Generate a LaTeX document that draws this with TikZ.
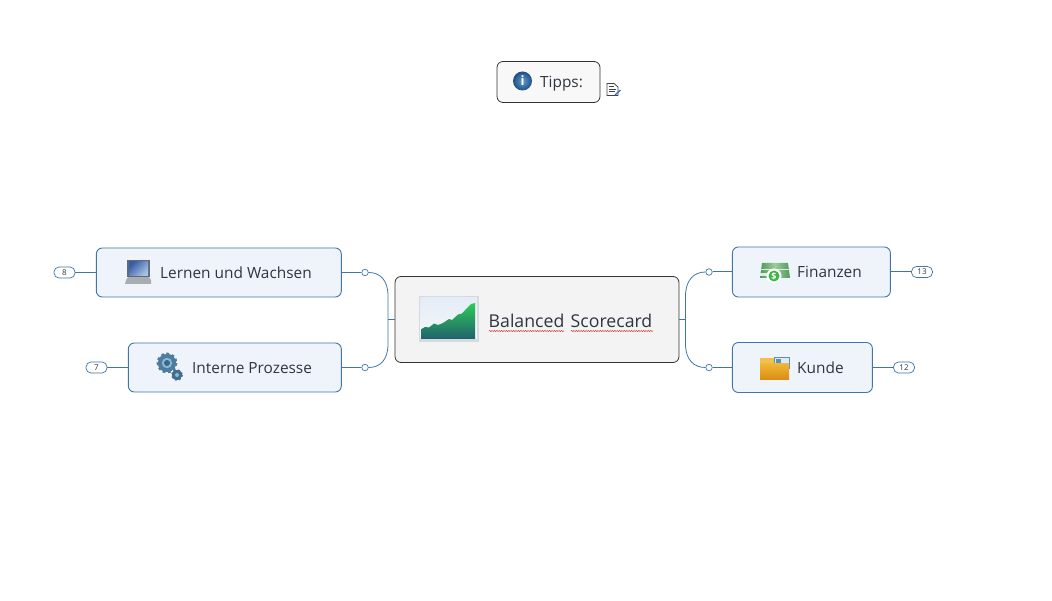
\documentclass[tikz,border=0pt]{standalone}
\usepackage{fontspec}
\setmainfont{Open Sans}
\usetikzlibrary{decorations.pathmorphing}
\definecolor{linkblue}{HTML}{3F75A8}
\definecolor{boxfill}{HTML}{EFF4FB}
\definecolor{rootfill}{HTML}{F3F3F3}
\definecolor{rootline}{HTML}{333333}
\definecolor{txt}{HTML}{2F3640}
\definecolor{wave}{HTML}{D23C3C}
\definecolor{chartsky}{HTML}{E4ECF6}
\definecolor{chartskyb}{HTML}{F6F8FB}
\definecolor{chartframe}{HTML}{D5DADF}
\definecolor{charttop}{HTML}{2CCB55}
\definecolor{chartmid}{HTML}{10B96A}
\definecolor{chartbot}{HTML}{21606E}
\definecolor{infoin}{HTML}{5F9BD0}
\definecolor{infoout}{HTML}{1F4F86}
\definecolor{gearbig}{HTML}{4F7C9E}
\definecolor{gearring}{HTML}{86BBDC}
\definecolor{gearhub}{HTML}{3D6685}
\definecolor{gearsmall}{HTML}{456C88}
\definecolor{lapframe}{HTML}{5F6B78}
\definecolor{lapbase}{HTML}{A8ADB2}
\definecolor{lapscreena}{HTML}{3A5CA8}
\definecolor{lapscreenb}{HTML}{A8C2E4}
\definecolor{moneya}{HTML}{4F9A5C}
\definecolor{moneyb}{HTML}{9CCB9E}
\definecolor{moneyc}{HTML}{DDEEDC}
\definecolor{dollar}{HTML}{3FB54A}
\definecolor{foldera}{HTML}{F1B534}
\definecolor{folderb}{HTML}{D98C12}
\definecolor{foldertab}{HTML}{F0C050}
\definecolor{cardblue}{HTML}{5B8FC0}
\definecolor{cardpale}{HTML}{DCEAF6}
\definecolor{notegray}{HTML}{444444}
\definecolor{notepen}{HTML}{3B6FC0}
\tikzset{
  x=1pt,y=-1pt,
  topicbox/.style={draw=linkblue,fill=boxfill,line width=0.9pt,rounded corners=6pt,inner sep=0pt},
  rootbox/.style={draw=rootline,fill=rootfill,line width=0.8pt,rounded corners=6pt,inner sep=0pt},
  toptext/.style={text=txt,font=\fontsize{15.4}{18}\selectfont,inner sep=0pt,anchor=west},
  roottext/.style={text=txt,font=\fontsize{17.7}{21}\selectfont,inner sep=0pt,anchor=west},
  countpill/.style={draw=linkblue,fill=white,line width=0.7pt,rounded corners=5pt,minimum width=21pt,minimum height=11pt,inner sep=0pt,text=txt,font=\fontsize{8}{9}\selectfont},
  knob/.style={circle,draw=linkblue,fill=white,line width=0.7pt,minimum size=6.5pt,inner sep=0pt},
  link/.style={draw=linkblue,line width=1pt},
  thinlink/.style={draw=linkblue,line width=0.8pt},
  spell/.style={draw=wave,line width=0.5pt,decorate,decoration={zigzag,segment length=2.4pt,amplitude=0.6pt}}
}
\begin{document}
\begin{tikzpicture}
\useasboundingbox (0,0) rectangle (1052,601);
% boxes
\node[rootbox,minimum width=284pt,minimum height=86pt] (root) at (537,319.5) {};
\node[rootbox,fill=rootfill!60!white,minimum width=103pt,minimum height=41pt] (tips) at (548.5,82) {};
\node[topicbox,minimum width=245pt,minimum height=49pt] (lernen) at (218.8,272.5) {};
\node[topicbox,minimum width=213pt,minimum height=49pt] (intern) at (234.8,367.5) {};
\node[topicbox,minimum width=158pt,minimum height=50pt] (finanz) at (811.4,272) {};
\node[topicbox,minimum width=140pt,minimum height=50pt] (kunde) at (802.4,367.5) {};
% knobs and counters
\node[knob] (kl) at (365,272.5) {};
\node[knob] (ki) at (365,367.5) {};
\node[knob] (kf) at (709,272) {};
\node[knob] (kk) at (709,367.5) {};
\node[countpill] (c8) at (64.5,272.5) {8};
\node[countpill] (c7) at (96.5,367.5) {7};
\node[countpill] (c13) at (922,272) {13};
\node[countpill] (c12) at (904,367.5) {12};
\coordinate (jl) at (388,319.5);
\coordinate (jr) at (685.5,319.5);
% connectors
\draw[thinlink] (root.west) -- (jl);
\draw[thinlink] (root.east) -- (jr);
\draw[thinlink] (kl.east) .. controls (380,272.5) and (388,280) .. (388,296) -- (jl) -- (388,344) .. controls (388,360) and (380,367.5) .. (ki.east);
\draw[thinlink] (kf.west) .. controls (694,272) and (685.5,280) .. (685.5,296) -- (jr) -- (685.5,344) .. controls (685.5,360) and (694,367.5) .. (kk.west);
\draw[link] (lernen.east) -- (kl.west);
\draw[link] (intern.east) -- (ki.west);
\draw[link] (finanz.west) -- (kf.east);
\draw[link] (kunde.west) -- (kk.east);
\draw[link] (lernen.west) -- (c8.east);
\draw[link] (intern.west) -- (c7.east);
\draw[link] (finanz.east) -- (c13.west);
\draw[link] (kunde.east) -- (c12.west);
% texts
\node[toptext] (tl) at (160,272.5) {Lernen und Wachsen};
\node[toptext] (ti) at (192,367.8) {Interne Prozesse};
\node[toptext] (tf) at (797,272) {Finanzen};
\node[toptext] (tk) at (797,367.5) {Kunde};
\node[toptext] (tt) at (540,83.5) {Tipps:};
\node[roottext] (tr1) at (488.5,320.5) {Balanced};
\node[roottext] (tr2) at (570.5,320.5) {Scorecard};
\draw[spell] (489,331) -- (564,331);
\draw[spell] (571,331) -- (653,331);
% icon: info
\shade[inner color=infoin,outer color=infoout] (522.5,81) circle (9.5);
\node[text=white,font=\bfseries\fontsize{13}{13}\selectfont,inner sep=0pt] (iinfo) at (522.5,81) {i};
% icon: note
\draw[draw=notegray,fill=white,line width=0.8pt] (607,83.5) -- (614,83.5) -- (618,87) -- (618,95.5) -- (607,95.5) -- cycle;
\draw[notegray,line width=0.8pt] (609,86.5) -- (613.5,86.5) (609,89) -- (616,89) (609,91.5) -- (614.5,91.5);
\draw[notepen,line width=1.3pt] (615,95) -- (620.5,90);
% icon: chart
\fill[chartframe] (418.5,296) rectangle (479,342);
\shade[top color=chartsky,bottom color=chartskyb] (420.5,297.5) rectangle (477,339);
\shade[top color=charttop,middle color=chartmid,bottom color=chartbot] (421.5,339) -- (421.5,329) -- (425,327) -- (429,327.5) -- (434,323.5) -- (438,325) -- (443,323) -- (449,319) -- (452,320) -- (458,314.5) -- (462,313.5) -- (467,308) -- (471,304) -- (475,303) -- (475,339) -- cycle;
% icon: laptop
\fill[lapbase] (126,280) -- (130,275) -- (147,275) -- (151,280) -- (151,284) -- (125,284) -- cycle;
\fill[lapframe] (127,260) rectangle (150,277);
\shade[left color=lapscreena,right color=lapscreenb,shading angle=45] (129,261.5) rectangle (148,275.5);
% icon: gears
\fill[gearbig,draw=gearbig,line width=2.8pt,dash pattern=on 2.6pt off 2.6pt] (167,363) circle (9);
\fill[gearbig] (167,363) circle (9);
\fill[gearring] (167,363) circle (5.2);
\fill[gearhub] (167,363) circle (3);
\fill[gearsmall,draw=gearsmall,line width=2pt,dash pattern=on 2pt off 2pt] (177,375) circle (5);
\fill[gearsmall] (177,375) circle (5);
\fill[gearring] (177,375) circle (2);
% icon: money
\shade[left color=moneya,right color=moneya,middle color=moneyb] (762,263) -- (788,263) -- (790,278) -- (760,278) -- cycle;
\fill[moneyc] (760,269) rectangle (790,270.5);
\fill[moneyc] (760,273) rectangle (772,276);
\fill[white] (774,276) circle (7.5);
\fill[dollar] (774,276) circle (5.5);
\node[text=white,font=\bfseries\fontsize{9}{9}\selectfont,inner sep=0pt] (idollar) at (774,276) {\$};
% icon: folder
\fill[foldertab] (760,358) rectangle (778,364);
\fill[cardpale,draw=cardblue,line width=0.5pt] (774,357) rectangle (789,368);
\fill[cardblue] (776,359) rectangle (781,366);
\shade[top color=foldera,bottom color=folderb] (760,364) -- (789,364) -- (789,380) -- (760,380) -- cycle;
\end{tikzpicture}
\end{document}
